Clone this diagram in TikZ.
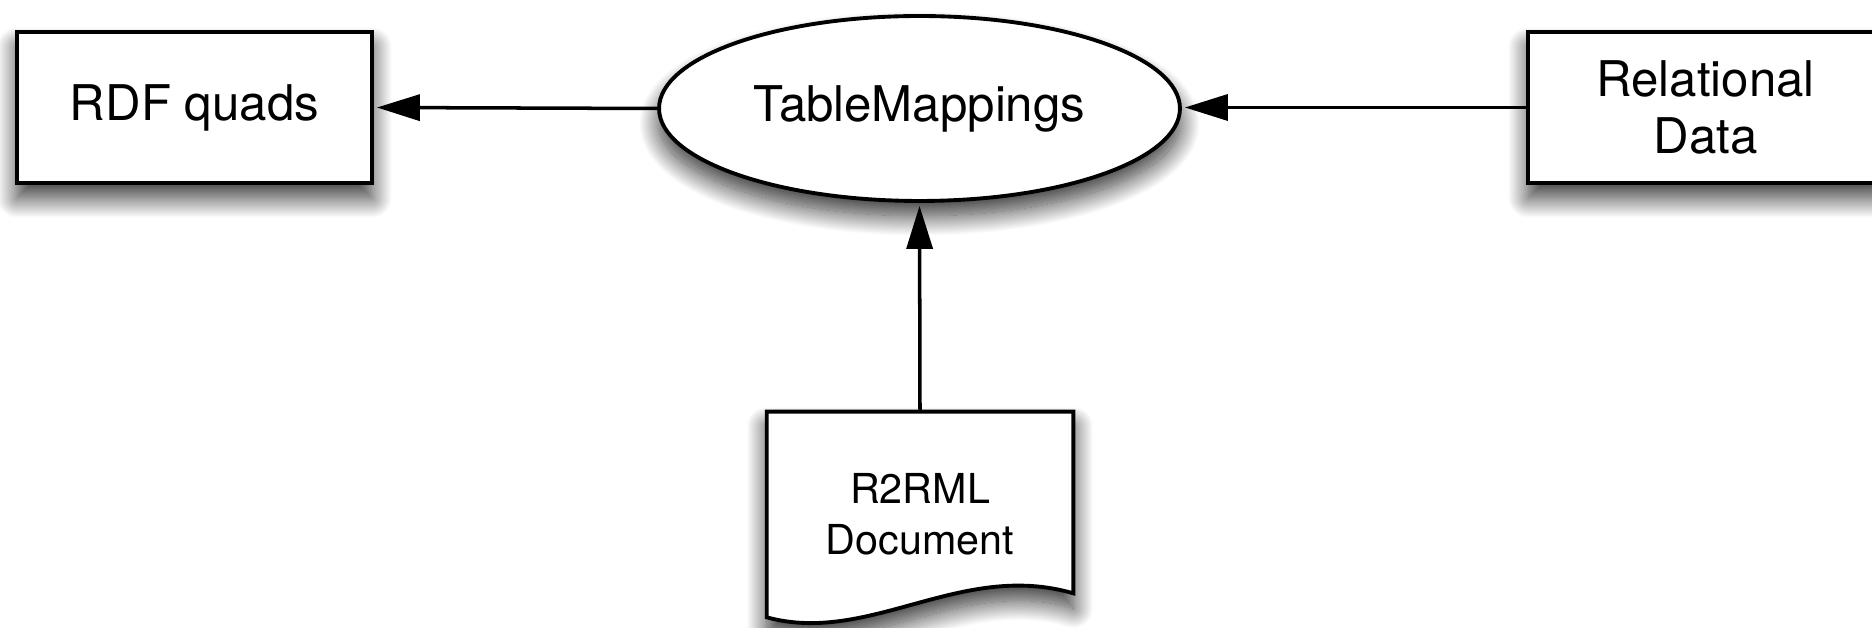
\documentclass[tikz,border=0pt]{standalone}
\usepackage{fontspec}
\setmainfont{TeX Gyre Heros}
\usetikzlibrary{shapes.geometric,arrows.meta,shadows.blur,backgrounds}

\begin{document}
\begin{tikzpicture}[x=0.02cm,y=0.02cm,
  shade/.style={blur shadow={shadow xshift=0pt,shadow yshift=-0.3cm,shadow blur radius=0.4cm,shadow blur steps=30,shadow opacity=80}},
  store/.style={draw,line width=2.2pt,fill=white,shade,minimum width=7.1cm,minimum height=3.02cm,inner sep=0pt,align=center,font=\fontsize{28}{32.5}\selectfont},
  proc/.style={ellipse,draw,line width=2.2pt,fill=white,shade,minimum width=10.42cm,minimum height=3.7cm,inner sep=0pt,font=\fontsize{28}{32.5}\selectfont},
  docnode/.style={minimum width=6.12cm,minimum height=4.1cm,inner sep=0pt,align=center,font=\fontsize{23.5}{29}\selectfont},
  docshape/.style={draw,line width=2.2pt,fill=white,shade,line join=miter},
  arr/.style={line width=2pt,-{Triangle[length=0.86cm,width=0.52cm]},shorten >=0.06cm}]
\useasboundingbox (0,0) rectangle (1872,628);
\clip (0,0) rectangle (1872,628);
% nodes
\node[store] (rdf) at (194.5,520.5) {RDF quads};
\node[proc] (tm) at (919.5,519.5) {TableMappings};
\node[store] (rel) at (1705.5,520.5) {Relational\\Data};
\node[docnode] (doc) at (920,113.5) {R2RML\\Document};
\begin{scope}[on background layer]
\draw[docshape] (doc.south west) -- (doc.north west) -- (doc.north east)
  -- ([yshift=0.48cm]doc.south east) .. controls +(-113,33) and +(103,-28) .. (doc.south west) -- cycle;
\end{scope}
% edges
\draw[arr] (tm.west) -- (rdf.east);
\draw[arr] (rel.west) -- (rel.west -| tm.east);
\draw[arr] (doc.north) -- (tm.south);
\end{tikzpicture}
\end{document}
